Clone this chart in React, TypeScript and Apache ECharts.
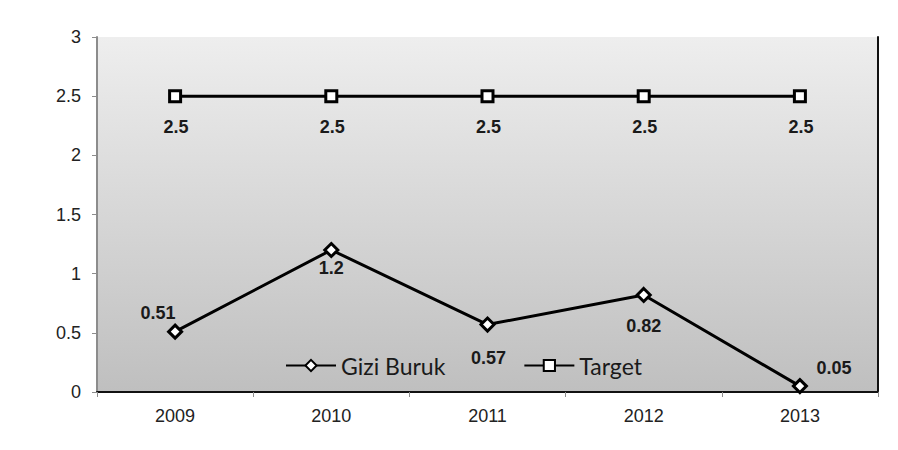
import React, { useEffect, useRef } from "react";
import * as echarts from "echarts";

const years = ["2009", "2010", "2011", "2012", "2013"];
const giziBuruk = [0.51, 1.2, 0.57, 0.82, 0.05];
const target = [2.5, 2.5, 2.5, 2.5, 2.5];
const giziLabelOffsets = [[-17, -19], [0, 18], [1, 33], [0, 31], [34, -18]];
const targetLabelOffsets = [[1, 31], [1, 31], [1, 31], [1, 31], [1, 31]];

const labelStyle = {
  show: true,
  position: "inside",
  fontFamily: "Liberation Sans, Arial, sans-serif",
  fontWeight: "bold",
  fontSize: 18,
  color: "#1a1a1a",
  formatter: (p: any) => String(p.value),
};

export default function App() {
  const ref = useRef<HTMLDivElement>(null);
  useEffect(() => {
    const chart = echarts.init(ref.current!, undefined, { renderer: "svg" });
    chart.setOption({
      animation: false,
      backgroundColor: "#ffffff",
      grid: {
        left: 97,
        right: 20,
        top: 37,
        bottom: 58,
        show: true,
        borderWidth: 0,
        backgroundColor: new echarts.graphic.LinearGradient(0, 0, 0, 1, [
          { offset: 0, color: "#eeeeee" },
          { offset: 1, color: "#bfbfbf" },
        ]),
      },
      legend: {
        left: 280,
        top: 349,
        itemWidth: 50,
        itemHeight: 14,
        itemGap: 78,
        textStyle: {
          fontFamily: "Lato, Open Sans, sans-serif",
          fontSize: 23,
          color: "#1a1a1a",
        },
        data: ["Gizi Buruk", "Target"],
      },
      xAxis: [
        {
          type: "category",
          data: years,
          boundaryGap: true,
          axisLine: { lineStyle: { color: "#8c8c8c", width: 2 } },
          axisTick: { show: true, length: 5, lineStyle: { color: "#8c8c8c", width: 1 } },
          axisLabel: {
            margin: 15,
            fontFamily: "Liberation Sans, Arial, sans-serif",
            fontSize: 18,
            color: "#222222",
          },
          splitLine: { show: false },
        },
        {
          type: "category",
          data: years,
          position: "top",
          axisLine: { lineStyle: { color: "#111111", width: 2 } },
          axisTick: { show: false },
          axisLabel: { show: false },
        },
      ],
      yAxis: [
        {
          type: "value",
          min: 0,
          max: 3,
          interval: 0.5,
          axisLine: { show: true, lineStyle: { color: "#8c8c8c", width: 2 } },
          axisTick: { show: true, length: 5, lineStyle: { color: "#8c8c8c", width: 1 } },
          axisLabel: {
            margin: 16,
            fontFamily: "Liberation Sans, Arial, sans-serif",
            fontSize: 18,
            color: "#222222",
          },
          splitLine: { show: false },
        },
        {
          type: "value",
          min: 0,
          max: 3,
          interval: 0.5,
          position: "right",
          axisLine: { show: true, lineStyle: { color: "#111111", width: 2 } },
          axisTick: { show: false },
          axisLabel: { show: false },
          splitLine: { show: false },
        },
      ],
      series: [
        {
          name: "Gizi Buruk",
          type: "line",
          data: giziBuruk.map((v, i) => ({
            value: v,
            label: { ...labelStyle, offset: giziLabelOffsets[i] },
          })),
          symbol: "diamond",
          symbolSize: 13,
          lineStyle: { color: "#000000", width: 3 },
          itemStyle: { color: "#ffffff", borderColor: "#000000", borderWidth: 3 },
          z: 3,
        },
        {
          name: "Target",
          type: "line",
          data: target.map((v, i) => ({
            value: v,
            label: { ...labelStyle, offset: targetLabelOffsets[i] },
          })),
          symbol: "rect",
          symbolSize: 11,
          lineStyle: { color: "#000000", width: 3 },
          itemStyle: { color: "#ffffff", borderColor: "#000000", borderWidth: 3 },
          z: 3,
        },
      ],
    });
    return () => chart.dispose();
  }, []);
  return <div ref={ref} style={{ width: 898, height: 450, position: "absolute", left: 0, top: 0 }} />;
}
